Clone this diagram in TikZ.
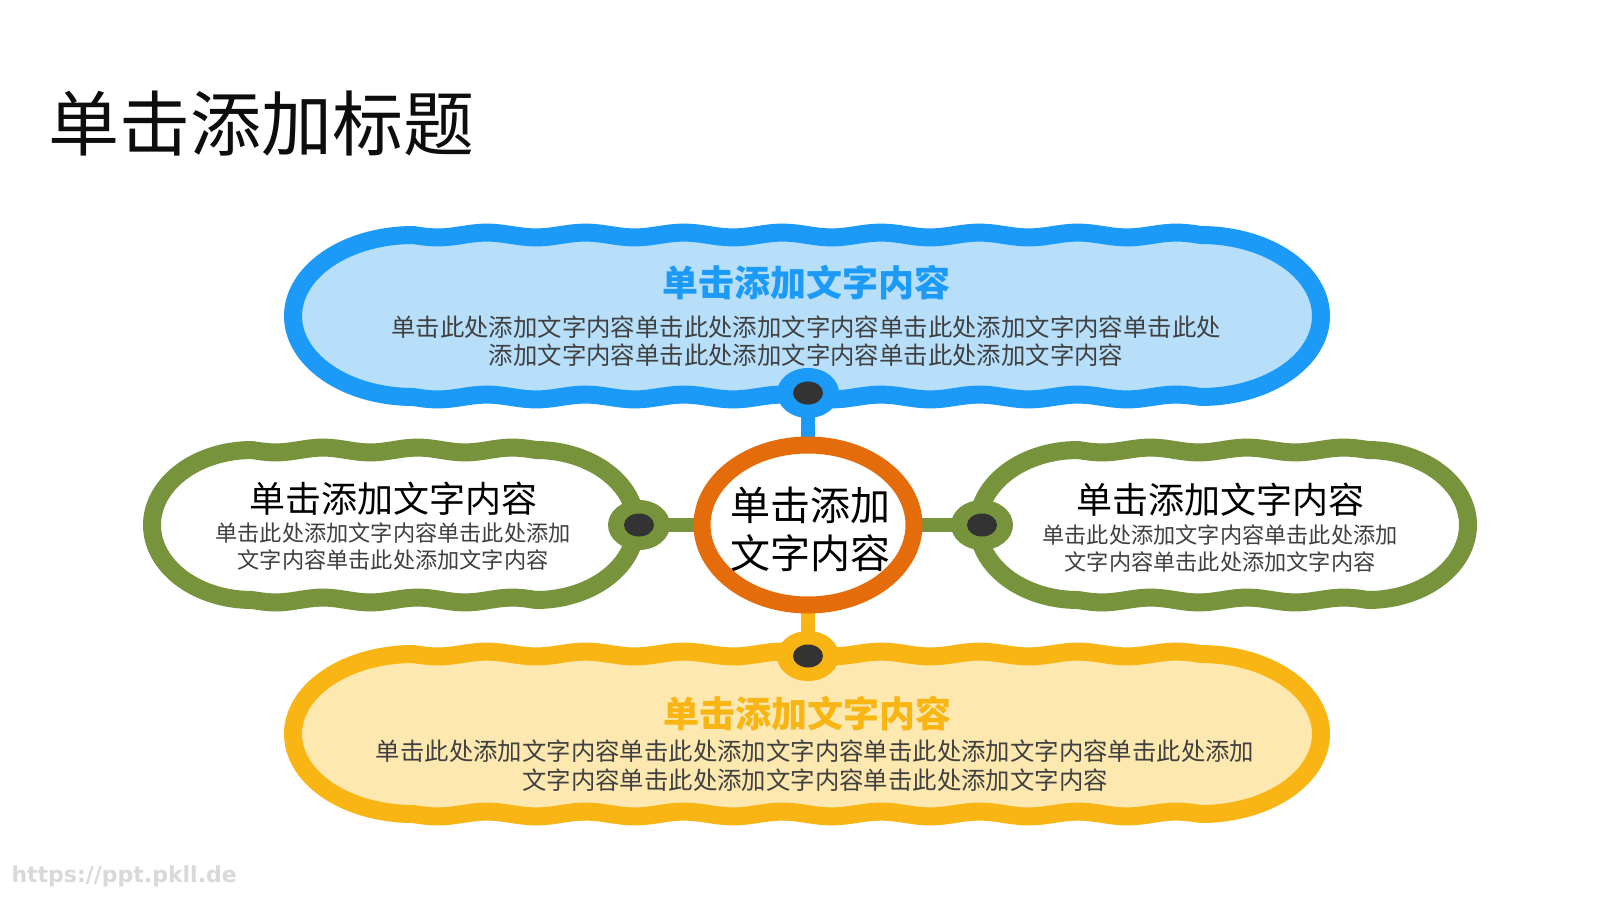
\documentclass[tikz,border=0pt]{standalone}
\usepackage{fontspec}
\newfontfamily\cjk{Noto Sans CJK SC}
\newfontfamily\wmfont{DejaVu Sans}
\usetikzlibrary{shapes.geometric}
\definecolor{cblue}{HTML}{1B9AF7}
\definecolor{cbluefill}{HTML}{B7DFFA}
\definecolor{cgreen}{HTML}{77933C}
\definecolor{corange}{HTML}{E46C0A}
\definecolor{cyellow}{HTML}{F8B514}
\definecolor{cyellowfill}{HTML}{FDE8B0}
\definecolor{cdot}{HTML}{333333}
\definecolor{cbody}{HTML}{404040}
\definecolor{cwm}{HTML}{D9D9D9}
\pgfdeclarelayer{bg}
\pgfsetlayers{bg,main}
\newcommand\wavycap[8]{%
  \pgfmathsetmacro\wcy{(#4+#5)/2}%
  \pgfmathsetmacro\wb{(#5-#4)/2}%
  \pgfmathsetmacro\wk{360*#7/(#3-#2)}%
  \path[#1] plot[domain=#2:#3,samples=160] (\x,{#4+#8*sin(\wk*(\x-#2))})
    -- plot[domain=-90:90,samples=60] ({#3+#6*cos(\x)},{\wcy+\wb*sin(\x)})
    -- plot[domain=#3:#2,samples=160] (\x,{#5+#8*sin(\wk*(\x-#2))})
    -- plot[domain=90:270,samples=60] ({#2+#6*cos(\x)},{\wcy+\wb*sin(\x)}) -- cycle;}
\tikzset{
  capline/.style={line width=18, line join=round},
  dotring/.style={ellipse, minimum width=62, minimum height=50, inner sep=0pt},
  conn/.style={line width=14},
  headtxt/.style={font=\cjk\bfseries\fontsize{36}{40}\selectfont},
  sidehead/.style={font=\cjk\fontsize{36}{40}\selectfont, text=black},
  bodytxt/.style={align=center, text=cbody, font=\cjk\fontsize{24.4}{28.5}\selectfont},
  sidebody/.style={align=center, text=cbody, font=\cjk\fontsize{22.2}{27}\selectfont},
}
\begin{document}
\begin{tikzpicture}[x=1pt,y=-1pt]
\useasboundingbox (0,0) rectangle (1600,900);
% title
\node[anchor=west, text=black!95, font=\cjk\fontsize{71}{80}\selectfont] (title) at (45,124) {单击添加标题};
% capsules
\wavycap{capline, draw=cblue, fill=cbluefill}{413}{1201}{235}{397}{120}{8}{2.4}
\wavycap{capline, draw=cyellow, fill=cyellowfill}{413}{1201}{654}{814}{120}{8}{2.4}
\wavycap{capline, draw=cgreen, fill=white}{252}{536}{450}{600}{100}{3}{2.4}
\wavycap{capline, draw=cgreen, fill=white}{1078}{1368}{450}{600}{100}{3}{2.4}
% centre ellipse
\node[ellipse, draw=corange, line width=17, fill=white, minimum width=212, minimum height=160, inner sep=0pt] (ctr) at (808,525) {};
\node[align=center, text=black, font=\cjk\fontsize{40}{48}\selectfont] (ctrtxt) at (810,529) {单击添加\\文字内容};
% dots
\node[dotring, fill=cblue] (dt) at (808,393) {};
\node[dotring, fill=cyellow] (db) at (808,656) {};
\node[dotring, fill=cgreen] (dl) at (639,525) {};
\node[dotring, fill=cgreen] (dr) at (982,525) {};
\foreach \d in {dt,db,dl,dr}{\fill[cdot] (\d.center) ellipse [x radius=15, y radius=11.5];}
% background and connectors
\begin{pgfonlayer}{bg}
\fill[white] (0,0) rectangle (1600,900);
\draw[conn, cblue] (dt.center) -- (ctr.center);
\draw[conn, cyellow] (db.center) -- (ctr.center);
\draw[conn, cgreen] (dl.center) -- (ctr.center);
\draw[conn, cgreen] (dr.center) -- (ctr.center);
\end{pgfonlayer}
% texts
\node[headtxt, text=cblue] (th) at (806,283) {单击添加文字内容};
\node[bodytxt] (tb) at (806,341) {单击此处添加文字内容单击此处添加文字内容单击此处添加文字内容单击此处\\添加文字内容单击此处添加文字内容单击此处添加文字内容};
\node[headtxt, text=cyellow] (bh) at (807,714) {单击添加文字内容};
\node[bodytxt] (bb) at (815,765.5) {单击此处添加文字内容单击此处添加文字内容单击此处添加文字内容单击此处添加\\文字内容单击此处添加文字内容单击此处添加文字内容};
\node[sidehead] (lh) at (393,499) {单击添加文字内容};
\node[sidebody] (lb) at (393,546.5) {单击此处添加文字内容单击此处添加\\文字内容单击此处添加文字内容};
\node[sidehead] (rh) at (1220,500) {单击添加文字内容};
\node[sidebody] (rb) at (1220,548.5) {单击此处添加文字内容单击此处添加\\文字内容单击此处添加文字内容};
% watermark
\node[anchor=west, text=cwm, font=\wmfont\bfseries\fontsize{22}{26}\selectfont] (wm) at (8,876) {https://ppt.pkll.de};
\end{tikzpicture}
\end{document}
